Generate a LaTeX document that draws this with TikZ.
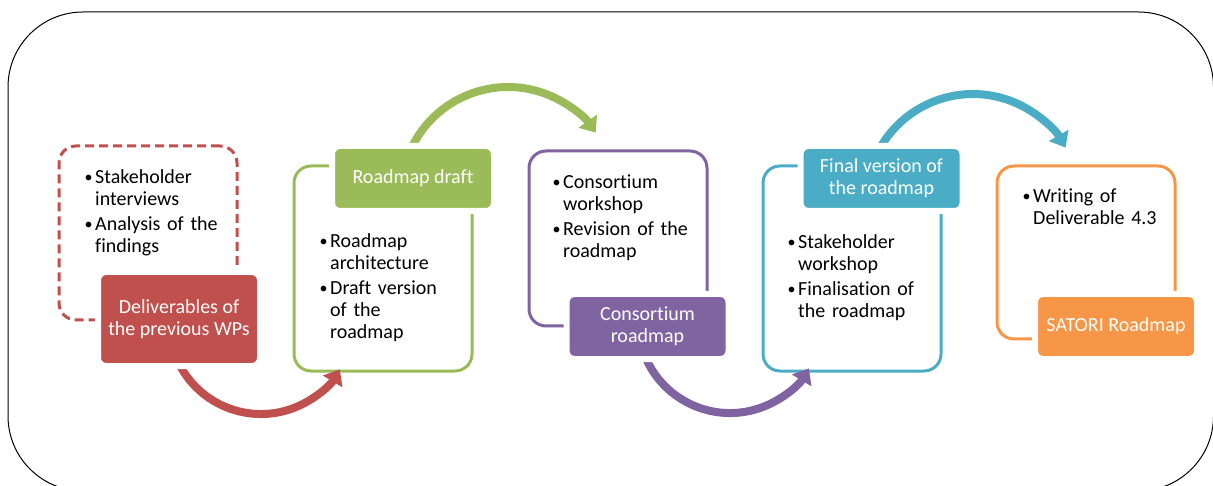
\documentclass[tikz,border=0pt]{standalone}
\usepackage{fontspec}
\setmainfont{Carlito}[Ligatures=NoCommon]
\usetikzlibrary{arrows.meta}
\definecolor{cred}{HTML}{C0504D}
\definecolor{cgreen}{HTML}{9BBB59}
\definecolor{cpurple}{HTML}{8064A2}
\definecolor{cblue}{HTML}{4BACC6}
\definecolor{corange}{HTML}{F79646}
\newcommand\itm[1]{\par\leftskip=11pt\noindent\hspace*{-11pt}\makebox[11pt][l]{\hspace*{0.5pt}\raisebox{0.8pt}{\scalebox{0.8}{\textbullet}}}\rule{0pt}{15pt}#1\par}
\newcommand\bodyfont{\fontsize{20pt}{21.8pt}\selectfont\parskip=3.5pt}
\tikzset{
  outbox/.style={draw, line width=3pt, rounded corners=17pt, inner sep=0pt, minimum width=178pt},
  lab/.style={draw=white, line width=6pt, rounded corners=8pt, text=white, inner sep=0pt, align=center,
    minimum width=162pt, minimum height=65pt, font=\fontsize{20pt}{22pt}\selectfont},
  blist/.style={anchor=north west, inner sep=0pt, text width=200pt, align=left, font=\bodyfont},
  arr/.style={line width=8pt, -{Triangle[length=14pt,width=22pt]}}
}
\begin{document}
\begin{tikzpicture}[x=1pt,y=-1pt]
\useasboundingbox (0,0) rectangle (1213,486);
\draw[line width=1pt, rounded corners=75pt] (8,12) rectangle (1213.5,491);
% outline boxes
\node[outbox, draw=cred, dashed, dash pattern=on 9pt off 5pt, minimum height=174pt] (b1) at (148,233) {};
\node[outbox, draw=cgreen, minimum height=205pt] (b2) at (383,268.5) {};
\node[outbox, draw=cpurple, minimum height=175pt] (b3) at (618,238.5) {};
\node[outbox, draw=cblue, minimum height=205pt] (b4) at (852,268.5) {};
\node[outbox, draw=corange, minimum height=173pt] (b5) at (1086,252.5) {};
% bullet texts
\node[blist] (t1) at (84,158) {\itm{Stakeholder\newline interviews}\itm{Analysis of the\newline findings}};
\node[blist] (t2) at (319,222) {\itm{Roadmap\newline architecture}\itm{Draft version\newline of the\newline roadmap}};
\node[blist] (t3) at (552,163) {\itm{Consortium\newline workshop}\itm{Revision of the\newline roadmap}};
\node[blist] (t4) at (787,223) {\itm{Stakeholder\newline workshop}\itm{Finalisation of\newline the roadmap}};
\node[blist] (t5) at (1022,177) {\itm{Writing of\newline Deliverable 4.3}};
% arrows
\coordinate (ra) at (177.6,360.9);
\coordinate (ga) at (410.3,150.5);
\coordinate (pa) at (644.7,355.5);
\coordinate (ba) at (878.5,150.8);
\draw[arr, cred] (ra) arc[start angle=155, end angle=31, radius=92];
\draw[arr, cgreen] (ga) arc[start angle=204, end angle=325, radius=107];
\draw[arr, cpurple] (pa) arc[start angle=158, end angle=31, radius=92];
\draw[arr, cblue] (ba) arc[start angle=208, end angle=330, radius=107];
% label boxes
\node[lab, fill=cred, minimum height=94pt] (l1) at (179,319) {Deliverables of\\the previous WPs};
\node[lab, fill=cgreen] (l2) at (413,178.5) {Roadmap draft};
\node[lab, fill=cpurple] (l3) at (647.5,326.5) {Consortium\\roadmap};
\node[lab, fill=cblue] (l4) at (881.5,178.5) {Final version of\\the roadmap};
\node[lab, fill=corange] (l5) at (1116,326.5) {SATORI Roadmap};
\end{tikzpicture}
\end{document}
